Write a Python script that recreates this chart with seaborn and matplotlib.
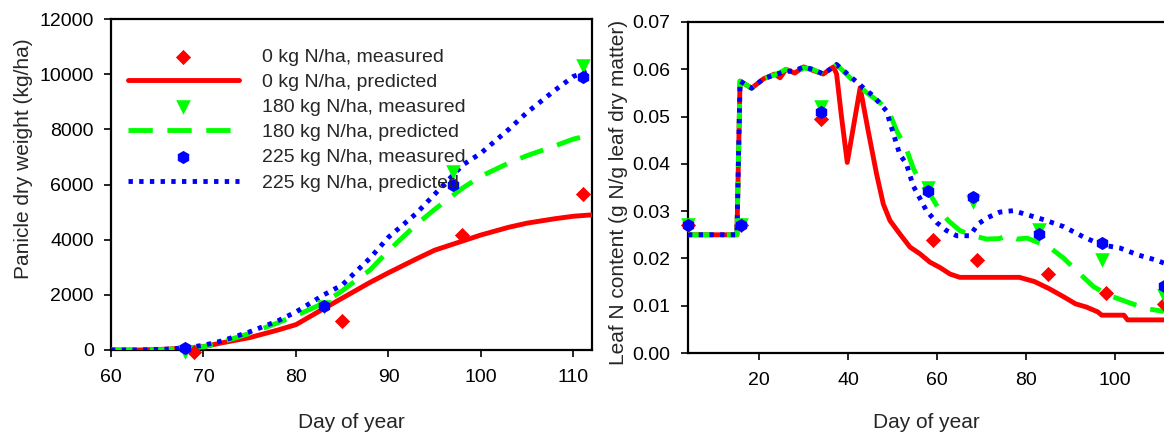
import matplotlib
matplotlib.use("Agg")
import matplotlib.pyplot as plt
import seaborn as sns

# ---- panel 1: panicle dry weight ----
day_meas_0 = [69, 85, 98, 111]
pan_meas_0 = [-60, 1060, 4170, 5650]
day_meas_hi = [68, 83, 97, 111]
pan_meas_180 = [-60, 1550, 6460, 10300]
pan_meas_225 = [60, 1600, 5980, 9900]

day_pred = [60, 63, 66, 68, 70, 72, 75, 78, 80, 83, 85, 88, 90, 93, 95, 98, 100, 103, 105, 108, 110, 112]
pan_pred_0 = [0, 0, 30, 70, 120, 260, 450, 720, 920, 1500, 1880, 2450, 2800, 3300, 3620, 3950, 4170, 4450, 4600, 4760, 4850, 4900]
pan_pred_180 = [0, 0, 20, 60, 120, 290, 600, 980, 1250, 1700, 2150, 2900, 3600, 4550, 5100, 5870, 6300, 6780, 7050, 7400, 7650, 7800]
pan_pred_225 = [0, 0, 30, 80, 170, 330, 660, 1050, 1380, 2000, 2360, 3330, 4090, 4950, 5650, 6700, 7140, 8000, 8620, 9420, 9920, 10150]

# ---- panel 2: leaf N content ----
leaf_meas_day_0 = [4, 16, 34, 59, 69, 85, 98, 111]
leaf_meas_0 = [0.027, 0.027, 0.0495, 0.024, 0.0197, 0.0167, 0.0126, 0.0103]
leaf_meas_day_hi = [4, 16, 34, 58, 68, 83, 97, 111]
leaf_meas_180 = [0.027, 0.027, 0.052, 0.035, 0.032, 0.026, 0.0197, 0.012]
leaf_meas_225 = [0.027, 0.027, 0.051, 0.0342, 0.033, 0.0251, 0.0232, 0.0142]

leaf_day_0 = [4, 15, 15.7, 18.3, 21, 23.5, 24.7, 26, 28, 30, 31.4, 34.4, 36.7, 37.4, 38.5, 39.8,
              42.7, 44.5, 46.4, 47.9, 49.4, 51.6, 53.9, 56.1, 58.4, 60.6, 62.9, 65.1, 78.5,
              81.9, 85.2, 88.6, 91.1, 93.6, 96.1, 97, 102, 102.8, 111]
leaf_pred_0 = [0.025, 0.025, 0.0575, 0.056, 0.058, 0.059, 0.0582, 0.060, 0.0592, 0.0605, 0.060, 0.059, 0.0605, 0.059, 0.050, 0.0403,
               0.0561, 0.047, 0.0378, 0.0315, 0.028, 0.0252, 0.0224, 0.021, 0.0192, 0.0181, 0.0167, 0.016, 0.016,
               0.0151, 0.0136, 0.0118, 0.0104, 0.0097, 0.0087, 0.008, 0.008, 0.007, 0.007]

leaf_day_180 = [4, 15, 15.7, 18.3, 21, 24, 26, 28, 30, 32, 34.4, 37.4, 41.2, 44.1, 47.1, 49.4, 50.9, 53.1,
                54.6, 56.1, 58.4, 60.6, 62.5, 65.1, 68.1, 71.1, 74, 75.6, 77.9, 80.2, 85.1, 88.5, 91.9,
                95.2, 98.6, 103.6, 106.9, 111]
leaf_pred_180 = [0.025, 0.025, 0.0575, 0.056, 0.058, 0.059, 0.060, 0.059, 0.0603, 0.060, 0.059, 0.061, 0.0575, 0.0551, 0.053, 0.0505, 0.047, 0.0431,
                 0.0392, 0.0361, 0.0336, 0.0301, 0.028, 0.0259, 0.0248, 0.0241, 0.0242, 0.0248, 0.0241, 0.0243, 0.0225, 0.020, 0.0169,
                 0.014, 0.0122, 0.0105, 0.0094, 0.0088]

leaf_day_225 = [4, 15, 15.7, 18.3, 21, 24, 26, 28, 30, 32, 34.4, 37.4, 41.2, 43.4, 45.6, 48.6, 50.1, 51.6,
                53.1, 54.6, 57.6, 59.9, 62.1, 64.4, 67.4, 69.2, 71.5, 74.1, 77.1, 79.3, 84.3, 88.5, 92.8,
                96.8, 101.1, 105.3, 109.4, 111]
leaf_pred_225 = [0.025, 0.025, 0.0575, 0.056, 0.058, 0.059, 0.0595, 0.0597, 0.0605, 0.060, 0.059, 0.061, 0.0579, 0.0561, 0.0544, 0.0512, 0.0466, 0.042,
                 0.040, 0.0354, 0.0301, 0.0276, 0.0259, 0.0248, 0.0248, 0.0273, 0.0287, 0.0298, 0.0301, 0.0295, 0.0281, 0.0267, 0.0246,
                 0.0229, 0.0222, 0.0207, 0.0196, 0.019]

labels = ["0 kg N/ha, measured", "0 kg N/ha, predicted",
          "180 kg N/ha, measured", "180 kg N/ha, predicted",
          "225 kg N/ha, measured", "225 kg N/ha, predicted"]

RED, GREEN, BLUE = "#ff0000", "#00ff00", "#0000ff"

sns.set_style("ticks")
plt.rcParams["font.family"] = ["Liberation Sans", "DejaVu Sans"]
plt.rcParams["axes.linewidth"] = 1.6

fig = plt.figure(figsize=(11.64, 4.33), dpi=100)
W, H = 1164, 433
ax1 = fig.add_axes([111 / W, 1 - 350 / H, 481 / W, 331 / H])
ax2 = fig.add_axes([688 / W, 1 - 353 / H, 476 / W, 331 / H])


def draw(ax, md0, m0, mdh, m180, m225, pd0, p0, pd180, p180, pd225, p225):
    sns.lineplot(x=pd0, y=p0, ax=ax, color=RED, lw=3.5, ls="-", label=labels[1], zorder=3)
    sns.lineplot(x=pd180, y=p180, ax=ax, color=GREEN, lw=3.5, ls=(0, (5, 3)), label=labels[3], zorder=4)
    sns.lineplot(x=pd225, y=p225, ax=ax, color=BLUE, lw=3.5, ls=(0, (0.9, 1.3)), label=labels[5], zorder=5)
    sns.scatterplot(x=md0, y=m0, ax=ax, color=RED, marker="D", s=60, edgecolor=RED, linewidth=0,
                    label=labels[0], zorder=6, clip_on=False)
    sns.scatterplot(x=mdh, y=m180, ax=ax, color=GREEN, marker="v", s=110, edgecolor=GREEN, linewidth=0,
                    label=labels[2], zorder=6, clip_on=False)
    sns.scatterplot(x=mdh, y=m225, ax=ax, color=BLUE, marker="h", s=90, edgecolor=BLUE, linewidth=0,
                    label=labels[4], zorder=7, clip_on=False)


draw(ax1, day_meas_0, pan_meas_0, day_meas_hi, pan_meas_180, pan_meas_225,
     day_pred, pan_pred_0, day_pred, pan_pred_180, day_pred, pan_pred_225)
draw(ax2, leaf_meas_day_0, leaf_meas_0, leaf_meas_day_hi, leaf_meas_180, leaf_meas_225,
     leaf_day_0, leaf_pred_0, leaf_day_180, leaf_pred_180, leaf_day_225, leaf_pred_225)

ax1.set_xlim(60, 112)
ax1.set_ylim(0, 12000)
ax1.set_xticks([60, 70, 80, 90, 100, 110])
ax1.set_yticks(range(0, 12001, 2000))
ax2.set_xlim(4, 111)
ax2.set_ylim(0, 0.07)
ax2.set_xticks([20, 40, 60, 80, 100])
ax2.set_yticks([0, 0.01, 0.02, 0.03, 0.04, 0.05, 0.06, 0.07])
ax2.yaxis.set_major_formatter(matplotlib.ticker.FormatStrFormatter("%.2f"))
ax2.spines["right"].set_visible(False)

for ax in (ax1, ax2):
    for s in ax.spines.values():
        s.set_color("black")
    ax.tick_params(direction="out", length=5, width=1.2, labelsize=14, colors="black")
    ax.tick_params(axis="x", pad=9)
    ax.tick_params(axis="y", pad=7.5)
    ax.set_xlabel("Day of year", fontsize=15)

ax1.set_ylabel("Panicle dry weight (kg/ha)", fontsize=15)
ax2.set_ylabel("Leaf N content (g N/g leaf dry matter)", fontsize=15)
ax1.yaxis.set_label_coords((24 - 111) / 481, 0.578)
ax2.yaxis.set_label_coords((619 - 688) / 476, 0.485)
ax1.xaxis.set_label_coords(0.5, (350 - 413) / 331)
ax2.xaxis.set_label_coords(0.5, (353 - 413) / 331)
for ax in (ax1, ax2):
    ax.yaxis.label.set_va("center")

# legend only on the left panel, ordered as in the figure
handles, labs = ax1.get_legend_handles_labels()
order = [labs.index(l) for l in labels]
ax2.get_legend().remove()
ax1.get_legend().remove()
fig.legend([handles[i] for i in order], [labs[i] for i in order],
           loc="upper left", bbox_to_anchor=(128 / W, 1 - 48 / H), frameon=False,
           fontsize=14, handlelength=5.7, handletextpad=1.2, labelspacing=0.39,
           borderpad=0, borderaxespad=0, markerscale=1.0)

fig.savefig("out.png", dpi=100)
